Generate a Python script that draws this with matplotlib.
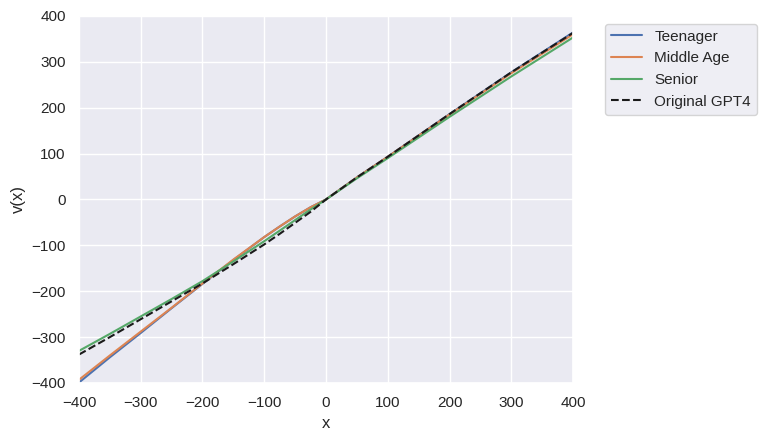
import matplotlib
matplotlib.use('Agg')
from matplotlib import pyplot as plt
import seaborn as sns

sns.set_theme(style='darkgrid')
plt.rcParams['font.family'] = ['Liberation Sans', 'DejaVu Sans']

# values
x = [-400, -350, -300, -250, -200, -150, -100, -75, -50, -25, 0, 50, 100, 200, 300, 400]
teenager = [-399, -344, -291, -237, -184, -132, -82, -59, -37, -17, 0, 48, 93, 186, 277, 364]
middle_age = [-393, -340, -288, -236, -183, -131, -82, -59, -37, -17, 0, 48, 93, 185, 275, 360]
senior = [-330, -293, -255, -217, -178, -135, -91, -68, -45, -22, 0, 46, 90, 180, 268, 353]
gpt4 = [-338, -300, -261, -222, -183, -141, -98, -75, -51, -27, 0, 48, 93, 186, 277, 363]

fig, ax = plt.subplots(figsize=(7.63, 4.42), dpi=100)
fig.subplots_adjust(left=0.1035, right=0.751, top=0.964, bottom=0.1335)

ax.plot(x, teenager, label='Teenager')
ax.plot(x, middle_age, label='Middle Age')
ax.plot(x, senior, label='Senior')
ax.plot(x, gpt4, 'k--', label='Original GPT4')

ax.set_xlim(-400, 400)
ax.set_ylim(-400, 400)
ax.set_xlabel('x')
ax.set_ylabel('v(x)')
ax.legend(bbox_to_anchor=(1.05, 1), loc='upper left')

fig.savefig('out.png', dpi=100)
